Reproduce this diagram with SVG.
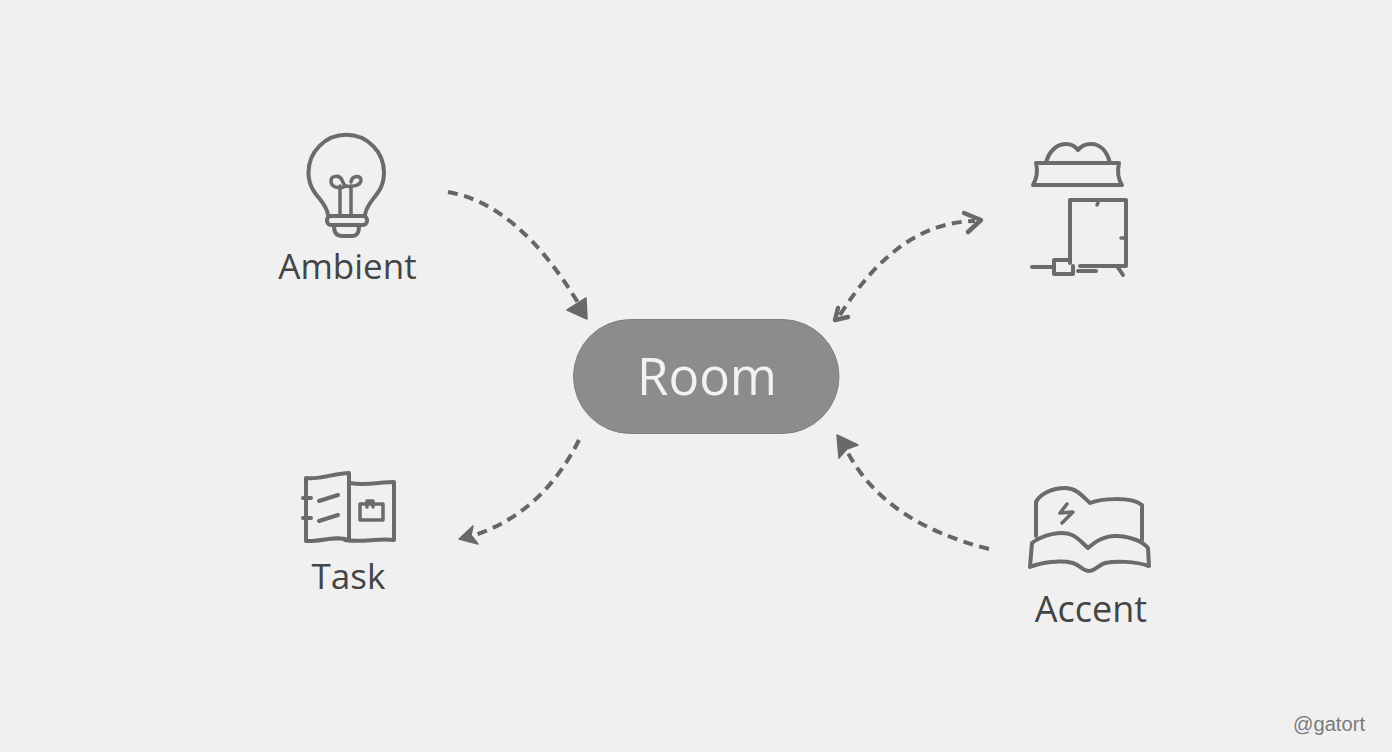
<svg xmlns="http://www.w3.org/2000/svg" width="1392" height="752" viewBox="0 0 1392 752">
  <style>
    .ic { fill: none; stroke: #6b6b6b; stroke-width: 4; stroke-linecap: round; stroke-linejoin: round; }
    .thin { stroke-width: 3.5; }
    .lb { font-family: "Open Sans", "Noto Sans", sans-serif; font-size: 35px; fill: #444444; text-anchor: middle; }
    .cn { fill: none; stroke: #666666; stroke-width: 4; stroke-dasharray: 10 6.5; stroke-linecap: butt; }
    .hd { fill: #696969; stroke: #696969; stroke-width: 1.5; stroke-linejoin: round; }
    .ch { fill: none; stroke: #696969; stroke-width: 4.5; stroke-linecap: round; stroke-linejoin: round; }
  </style>
  <rect id="background" width="1392" height="752" fill="#f0f0f0"/>

  <g id="connectors">
    <path class="cn" d="M448 192Q519 204 580 306"/>
    <polygon class="hd" points="586,298 567,310 587,319"/>
    <path class="cn" d="M840 315Q898 222 975 221"/>
    <polyline class="ch" points="964,213 981,220 968,232"/>
    <polyline class="ch" points="838,308 835,320 848,317"/>
    <path class="cn" d="M579 440Q543 512 475 535"/>
    <polygon class="hd" points="473,526 459,539 478,544 471,535"/>
    <path class="cn" d="M989 549Q885.500 523 848 453"/>
    <polygon class="hd" points="837,435 858,445 847,449 839,458"/>
  </g>

  <g id="node-room">
    <rect x="573.500" y="319.500" width="265.500" height="114" rx="57" fill="#8c8c8c" stroke="#808080" stroke-width="1"/>
    <text x="707" y="395" font-family="'Open Sans', 'Noto Sans', sans-serif" font-size="51" font-weight="500" fill="#f2f2f2" text-anchor="middle">Room</text>
  </g>

  <g id="node-ambient">
    <path class="ic" d="M328 215C326 199 308.500 195 308.500 172.500A37.700 37.700 0 1 1 384 172.500C384 195 367 199 365 215"/>
    <rect class="ic" x="327" y="216" width="40" height="9" rx="4"/>
    <path class="ic" d="M334 226C334 233 337 236 342 236H352C357 236 359 233 359 226"/>
    <path class="ic thin" d="M340 215V186M351 215V186"/>
    <path class="ic thin" d="M346 186C340 189 331 188 331 181C331 175 340 175 342 180C343 183 344 185 346 186C351 187 361 186 361 180C361 175 352 175 351 182"/>
    <text class="lb" x="347.500" y="279">Ambient</text>
  </g>

  <g id="node-furniture">
    <path class="ic" d="M1046 163C1049 150 1058 144 1066 144C1072 144 1075 146 1078 150C1081 146 1085 144 1091 144C1100 144 1107 151 1110 163"/>
    <path class="ic" d="M1036 163H1119C1117 172 1118 179 1122 185H1033C1037 178 1038 171 1036 163Z"/>
    <path class="ic" d="M1070 263V200H1126V266H1080"/>
    <path class="ic thin" d="M1097 205L1098 203M1121 238H1126"/>
    <path class="ic" d="M1070 260H1054V274H1073V266"/>
    <path class="ic" d="M1032 267H1053M1078 271H1096M1117 266L1123 275"/>
  </g>

  <g id="node-task">
    <path class="ic" d="M306 478C320 480 335 473 349 473V540C335 535 320 542 306 541Z"/>
    <path class="ic" d="M350 483C365 486 380 482 394 482V540C378 538 360 543 345 540"/>
    <path class="ic" d="M303 498H311M303 518H311M319 501L338 495M319 521L338 515"/>
    <path class="ic thin" d="M360 504H383V520H360ZM367 507V501H373V507"/>
    <text class="lb" x="348.500" y="589">Task</text>
  </g>

  <g id="node-accent">
    <path class="ic" d="M1036 536V502C1040 494 1052 488 1065 488C1077 488 1083 497 1090 503C1100 499 1130 496 1142 505V540"/>
    <path class="ic" d="M1032 543C1042 535 1062 530 1072 535C1079 538 1083 544 1088 548C1094 543 1103 535 1118 536C1130 537 1142 541 1148 548L1149 566C1135 561 1115 561 1105 563C1098 565 1095 571 1089 571C1083 571 1080 565 1073 563C1060 560 1042 562 1030 567Z"/>
    <path class="ic thin" d="M1067 504L1060 513L1073 512L1062 523"/>
    <text class="lb" x="1091" y="622" style="font-size:36px">Accent</text>
  </g>

  <g id="watermark">
    <text x="1293" y="731" font-family="'Liberation Sans', sans-serif" font-size="20" fill="#7a7a7a" textLength="72" lengthAdjust="spacingAndGlyphs">@gatort</text>
  </g>
</svg>
